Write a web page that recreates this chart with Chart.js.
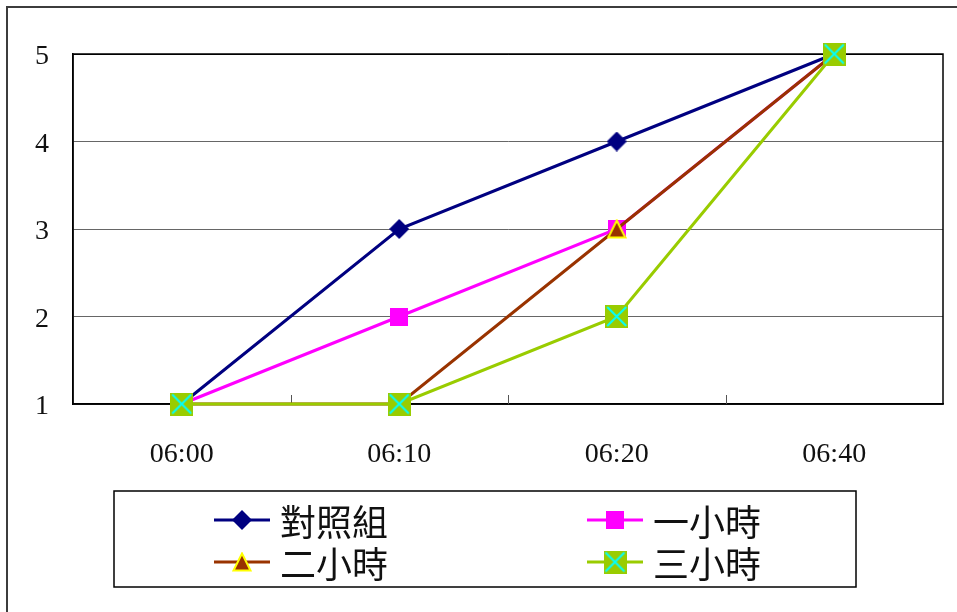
<!DOCTYPE html>
<html>
<head>
<meta charset="utf-8">
<script src="https://cdn.jsdelivr.net/npm/chart.js@4.4.0/dist/chart.umd.min.js"></script>
<style>
  html, body { margin: 0; padding: 0; background: #fff; }
  #wrap { position: relative; width: 957px; height: 612px; }
</style>
</head>
<body>
<div id="wrap"><canvas id="lineChart" width="957" height="612"></canvas></div>
<script>
let times = ["06:00", "06:10", "06:20", "06:40"];
let seriesNames = ["對照組", "一小時", "二小時", "三小時"];
let control = [1, 3, 4, 5];
let oneHour = [1, 2, 3, 5];
let twoHour = [1, 1, 3, 5];
let threeHour = [1, 1, 2, 5];
let yTicks = [1, 2, 3, 4, 5];

// marker images, shared by the points and the legend
function makeMarker(size, drawFn) {
    let c = document.createElement("canvas");
    c.width = size;
    c.height = size;
    drawFn(c.getContext("2d"), size);
    return c;
}

let diamond = makeMarker(20, (ctx, s) => {
    ctx.fillStyle = "#000080";
    ctx.beginPath();
    ctx.moveTo(s / 2, 0);
    ctx.lineTo(s, s / 2);
    ctx.lineTo(s / 2, s);
    ctx.lineTo(0, s / 2);
    ctx.closePath();
    ctx.fill();
});

let square = makeMarker(18, (ctx, s) => {
    ctx.fillStyle = "#FF00FF";
    ctx.fillRect(0, 0, s, s);
});

let triangle = makeMarker(20, (ctx, s) => {
    ctx.fillStyle = "#993300";
    ctx.strokeStyle = "#FFFF00";
    ctx.lineWidth = 2;
    ctx.beginPath();
    ctx.moveTo(s / 2, 1.5);
    ctx.lineTo(s - 1.5, s - 1.5);
    ctx.lineTo(1.5, s - 1.5);
    ctx.closePath();
    ctx.fill();
    ctx.stroke();
});

let crossBox = makeMarker(23, (ctx, s) => {
    ctx.fillStyle = "#99CC00";
    ctx.fillRect(0, 0, s, s);
    ctx.strokeStyle = "#00FFFF";
    ctx.lineWidth = 2;
    ctx.beginPath();
    ctx.moveTo(2, 2);
    ctx.lineTo(s - 2, s - 2);
    ctx.moveTo(s - 2, 2);
    ctx.lineTo(2, s - 2);
    ctx.stroke();
});

let values = [control, oneHour, twoHour, threeHour];
let colors = ["#000080", "#FF00FF", "#993300", "#99CC00"];
let markers = [diamond, square, triangle, crossBox];

let datasets = values.map((v, i) => ({
    label: seriesNames[i],
    data: v,
    borderColor: colors[i],
    backgroundColor: colors[i],
    borderWidth: 3,
    pointStyle: markers[i],
    pointRadius: 10,
    pointHoverRadius: 10,
    tension: 0,
    clip: false,
    order: 3 - i
}));

let framePlugin = {
    id: "frame",
    beforeDraw(chart) {
        let ctx = chart.ctx;
        ctx.save();
        ctx.fillStyle = "#fff";
        ctx.fillRect(0, 0, chart.width, chart.height);
        ctx.strokeStyle = "#3c3c3c";
        ctx.lineWidth = 2;
        ctx.beginPath();
        ctx.moveTo(7, chart.height);
        ctx.lineTo(7, 7);
        ctx.lineTo(chart.width, 7);
        ctx.stroke();
        ctx.restore();
    },
    beforeDatasetsDraw(chart) {
        let ctx = chart.ctx;
        let a = chart.chartArea;
        let x = chart.scales.x;
        ctx.save();
        ctx.strokeStyle = "#000";
        ctx.lineWidth = 1.5;
        ctx.strokeRect(a.left, a.top, a.right - a.left, a.bottom - a.top);
        // short tick marks between the categories, pointing up
        ctx.strokeStyle = "#555";
        ctx.lineWidth = 1;
        for (let i = 1; i < times.length; i++) {
            let px = Math.round((x.getPixelForValue(i - 1) + x.getPixelForValue(i)) / 2) + 0.5;
            ctx.beginPath();
            ctx.moveTo(px, a.bottom - 9);
            ctx.lineTo(px, a.bottom);
            ctx.stroke();
        }
        ctx.restore();
    },
    afterDraw(chart) {
        let ctx = chart.ctx;
        ctx.save();
        ctx.strokeStyle = "#000";
        ctx.lineWidth = 1.5;
        ctx.strokeRect(114, 491, 742, 96);
        let cols = [214, 587];
        let rows = [520, 562];
        chart.data.datasets.forEach((ds, i) => {
            let lx = cols[i % 2];
            let ly = rows[Math.floor(i / 2)];
            ctx.strokeStyle = ds.borderColor;
            ctx.lineWidth = 3;
            ctx.beginPath();
            ctx.moveTo(lx, ly);
            ctx.lineTo(lx + 56, ly);
            ctx.stroke();
            let m = ds.pointStyle;
            ctx.drawImage(m, lx + 28 - m.width / 2, ly - m.height / 2);
            ctx.fillStyle = "#111";
            ctx.font = "36px 'Noto Sans CJK TC'";
            ctx.textBaseline = "middle";
            ctx.textAlign = "left";
            ctx.fillText(ds.label, lx + 66, ly + 2);
        });
        ctx.restore();
    }
};

let chart = new Chart(document.getElementById("lineChart").getContext("2d"), {
    type: "line",
    data: {
        labels: times,
        datasets
    },
    options: {
        responsive: false,
        animation: false,
        devicePixelRatio: 1,
        layout: { padding: { left: 0, top: 54, right: 14, bottom: 0 } },
        plugins: {
            legend: { display: false },
            tooltip: { enabled: false }
        },
        scales: {
            x: {
                type: "category",
                offset: true,
                grid: { display: false, drawTicks: false },
                border: { display: true, color: "#000", width: 1.5 },
                ticks: {
                    color: "#111",
                    padding: 34,
                    font: { family: "'Liberation Serif'", size: 28 }
                },
                afterFit(scale) { scale.height = 208; }
            },
            y: {
                min: yTicks[0],
                max: yTicks[yTicks.length - 1],
                afterBuildTicks(scale) { scale.ticks = yTicks.map(v => ({ value: v })); },
                grid: {
                    drawTicks: false,
                    color: ctx => ctx.tick && ctx.tick.value === 5 ? "#000" : "#666",
                    lineWidth: 1
                },
                border: { display: true, color: "#000", width: 1.5 },
                ticks: {
                    color: "#111",
                    padding: 24,
                    labelOffset: 3,
                    font: { family: "'Liberation Serif'", size: 28 }
                },
                afterFit(scale) { scale.width = 73; }
            }
        }
    },
    plugins: [framePlugin]
});
</script>
</body>
</html>
